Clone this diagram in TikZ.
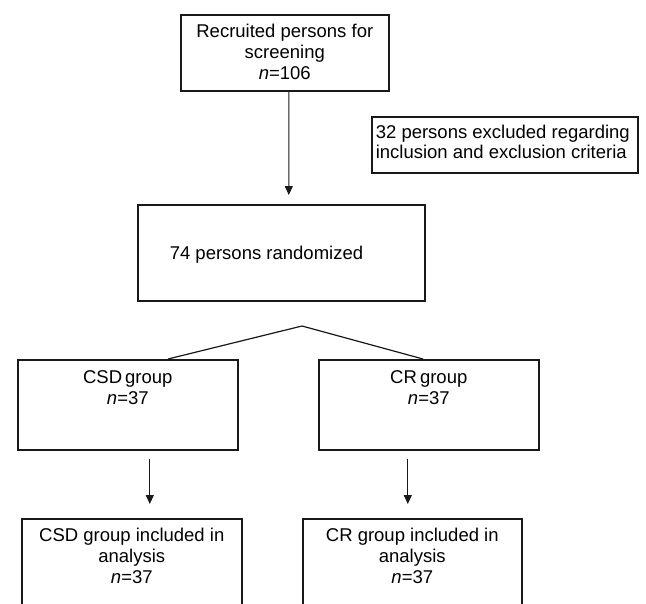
\documentclass[tikz,border=0pt]{standalone}
\usepackage{fontspec}
\setmainfont{Liberation Sans}
\usetikzlibrary{arrows.meta,calc}
\newcommand\mybx[4]{\parbox[c][#1][t]{#2}{\centering\vspace*{#3}\strut #4}}
\begin{document}
\begin{tikzpicture}[x=1bp,y=-1bp,
  box/.style={draw=black!90, line width=1.6bp, inner sep=0pt, anchor=north west,
    font=\fontsize{18.5bp}{21bp}\selectfont},
  arr/.style={draw=black!90, line width=1.1bp, -{Triangle[width=8bp,length=9bp]}},
  link/.style={draw=black!90, line width=1.2bp}]
\useasboundingbox (0,0) rectangle (646,604);
\fill[white] (0,0) rectangle (646,604);

\node[box] (top) at (180,14)
  {\mybx{76bp}{208bp}{8.3bp}{Recruited persons for\\screening\\\textit{n}=106}};
\node[box, inner xsep=4bp] (excl) at (371,116)
  {\parbox[c][56bp][t]{258bp}{\raggedright\vspace*{7.3bp}\strut 32 persons excluded regarding\\[-1bp]inclusion and exclusion criteria}};
\node[box] (rand) at (137,204)
  {\parbox[c][96bp][t]{287bp}{\raggedright\vspace*{40.3bp}\strut\hspace*{32bp}74 persons randomized}};
\node[box] (csd) at (17,359)
  {\mybx{90bp}{220bp}{9.3bp}{CSD\,group\\\textit{n}=37}};
\node[box] (cr) at (318,359)
  {\mybx{90bp}{220bp}{9.3bp}{CR\,group\\\textit{n}=37}};
\node[box] (csdA) at (21,518)
  {\mybx{120bp}{220bp}{8.3bp}{CSD group included in\\analysis\\\textit{n}=37}};
\node[box] (crA) at (302,518)
  {\mybx{120bp}{219bp}{8.3bp}{CR group included in\\analysis\\\textit{n}=37}};

\coordinate (apex) at (302,326);
\draw[arr] ($(top.south)+(4,0)$) -- ($(rand.north)+(7.5,-9)$);
\draw[link] ($(csd.north west)+(151,0)$) -- (apex) -- ($(cr.north west)+(105,0)$);
\draw[arr] ($(csd.south)+(22,8)$) -- ($(csdA.north)+(18,-14)$);
\draw[arr] ($(cr.south)+(-21,8)$) -- ($(crA.north)+(-4.5,-14)$);
\end{tikzpicture}
\end{document}
